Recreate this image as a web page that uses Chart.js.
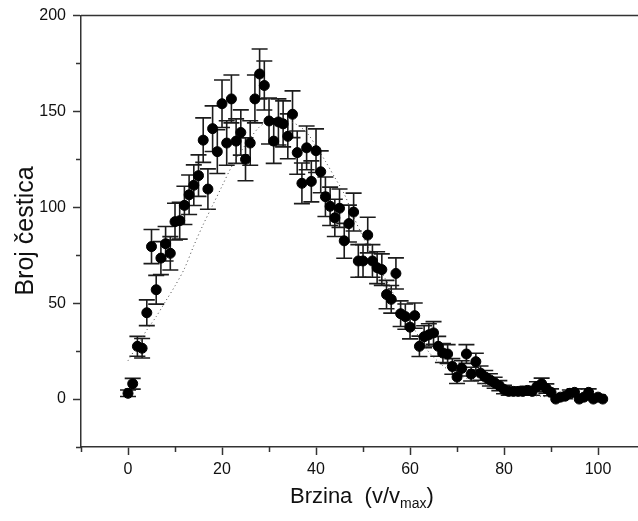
<!DOCTYPE html>
<html>
<head>
<meta charset="utf-8">
<script src="https://cdn.jsdelivr.net/npm/chart.js@4.4.1/dist/chart.umd.min.js"></script>
<style>
  html, body { margin: 0; padding: 0; background: #fff; }
</style>
</head>
<body>
<canvas id="chartId" width="638" height="521"></canvas>
<script>
// measured points (speed in % of v_max, particle count, error)
var speeds = [0, 1, 2, 3, 4, 5, 6, 7, 8, 9, 10, 11, 12, 13, 14, 15, 16, 17, 18, 19,
    20, 21, 22, 23, 24, 25, 26, 27, 28, 29, 30, 31, 32, 33, 34, 35, 36, 37, 38, 39,
    40, 41, 42, 43, 44, 45, 46, 47, 48, 49, 50, 51, 52, 53, 54, 55, 56, 57, 58, 59,
    60, 61, 62, 63, 64, 65, 66, 67, 68, 69, 70, 71, 72, 73, 74, 75, 76, 77, 78, 79,
    80, 81, 82, 83, 84, 85, 86, 87, 88, 89, 90, 91, 92, 93, 94, 95, 96, 97, 98, 99,
    100, 101];
var counts = [3, 8, 27.5, 26.5, 45, 79.5, 57, 73.5, 81, 76, 92.5, 93, 101, 106.5, 111.5, 116.5, 135, 109.5, 141, 129,
    154, 133.5, 156.5, 134.5, 139, 125, 133.5, 156.5, 169.5, 163.5, 145, 134.5, 144.5, 143.5, 137, 148.5, 128.5, 112.5, 131, 113.5,
    129.5, 118.5, 105.5, 100.5, 94.5, 99.5, 82.5, 91.5, 97.5, 72, 72, 85.5, 72, 68.5, 67.5, 54.5, 52, 65.5, 44.5, 43,
    37.5, 43.5, 27.5, 32.5, 33.5, 34.5, 27.5, 24, 23.5, 17, 11.5, 16, 23.5, 13, 19.5, 13.5, 11.5, 10, 8.5, 7,
    5, 4, 4, 4, 4, 4.5, 4, 6.5, 8, 5.5, 3.5, 0, 1, 1.5, 3, 3.5, 0, 1, 3.5, 0,
    1, 0];
var errors = [1.7, 2.8, 5.2, 5.1, 6.7, 8.9, 7.5, 8.6, 9, 8.7, 9.6, 9.6, 10, 10.3, 10.6, 10.8, 11.6, 10.5, 11.9, 11.4,
    12.4, 11.6, 12.5, 11.6, 11.8, 11.2, 11.6, 12.5, 13, 12.8, 12, 11.6, 12, 12, 11.7, 12.2, 11.3, 10.6, 11.4, 10.7,
    11.4, 10.9, 10.3, 10, 9.7, 10, 9.1, 9.6, 9.9, 8.5, 8.5, 9.3, 8.5, 8.3, 8.2, 7.4, 7.2, 8.1, 6.7, 6.6,
    6.1, 6.6, 5.3, 5.7, 5.8, 5.9, 5.2, 4.9, 4.9, 4.1, 3.4, 4, 4.9, 3.6, 4.4, 3.7, 3.4, 3.2, 2.9, 2.6,
    2.2, 2, 2, 2, 2, 2.2, 2, 2.5, 2.9, 2.4, 1.8, 0, 1.1, 1.3, 1.7, 1.8, 0, 1.1, 1.8, 0,
    1.1, 0];

// dotted reference curve
var curveX = [0, 2, 4, 6, 8, 10, 12, 14, 16, 18, 20, 22, 24, 26, 28, 30, 32, 34, 36, 38,
    40, 42, 44, 46, 48, 50, 52, 54, 56, 58, 60, 62, 64, 66, 68, 70, 74, 78, 82, 86, 90, 95, 100];
var curveY = [20, 28, 36, 43, 51, 59, 68, 80, 91, 101, 111, 121, 129, 136, 142, 145, 146, 145, 143, 139,
    132, 124, 115.5, 107, 95, 84.5, 75, 66, 57, 48, 40, 32, 24.5, 19.5, 15.5, 13, 9, 6, 4, 2, 1, 0.5, 0];

var xTicksMajor = [0, 20, 40, 60, 80, 100];
var yTicksMajor = [0, 50, 100, 150, 200];

var fontName = "'Liberation Sans', Arial, sans-serif";
var axisColor = '#333';

var errorBars = {
    id: 'errorBars',
    beforeDatasetsDraw: function (chart) {
        var ctx = chart.ctx;
        var xs = chart.scales.x, ys = chart.scales.y;
        ctx.save();
        ctx.strokeStyle = '#1c1c1c';
        ctx.lineWidth = 1.6;
        for (var i = 0; i < speeds.length; i++) {
            if (!errors[i]) continue;
            var px = xs.getPixelForValue(speeds[i]);
            var top = ys.getPixelForValue(counts[i] + errors[i]);
            var bot = ys.getPixelForValue(counts[i] - errors[i]);
            ctx.beginPath();
            ctx.moveTo(px, top); ctx.lineTo(px, bot);
            ctx.moveTo(px - 8, top); ctx.lineTo(px + 8, top);
            ctx.moveTo(px - 8, bot); ctx.lineTo(px + 8, bot);
            ctx.stroke();
        }
        ctx.restore();
    }
};

// top border, minor ticks and the two axis titles
var frame = {
    id: 'frame',
    afterDraw: function (chart) {
        var ctx = chart.ctx, area = chart.chartArea;
        var xs = chart.scales.x, ys = chart.scales.y;
        ctx.save();
        ctx.strokeStyle = axisColor;
        ctx.lineWidth = 1.5;
        ctx.beginPath();
        ctx.moveTo(area.left, area.top);
        ctx.lineTo(area.right, area.top);
        for (var v = -10; v <= 100; v += 20) {
            var px = Math.round(xs.getPixelForValue(v)) + 0.5;
            ctx.moveTo(px, area.bottom);
            ctx.lineTo(px, area.bottom + 5);
        }
        for (var w = -25; w <= 175; w += 50) {
            var py = Math.round(ys.getPixelForValue(w)) + 0.5;
            ctx.moveTo(area.left, py);
            ctx.lineTo(area.left - 5, py);
        }
        ctx.stroke();

        ctx.fillStyle = '#111';
        ctx.textBaseline = 'alphabetic';
        // x title with subscript
        var big = '22px ' + fontName, small = '14px ' + fontName;
        var p1 = 'Brzina  (v/v', p2 = 'max', p3 = ')';
        ctx.font = big;
        var w1 = ctx.measureText(p1).width;
        ctx.font = small;
        var w2 = ctx.measureText(p2).width;
        var x0 = 290;
        var base = 503;
        ctx.font = big;
        ctx.fillText(p1, x0, base);
        ctx.font = small;
        ctx.fillText(p2, x0 + w1, base + 5);
        ctx.font = big;
        ctx.fillText(p3, x0 + w1 + w2, base);

        // y title
        ctx.translate(33, 231);
        ctx.rotate(-Math.PI / 2);
        ctx.textAlign = 'center';
        ctx.font = '25px ' + fontName;
        ctx.fillText('Broj čestica', 0, 0);
        ctx.restore();
    }
};

var chrt = document.getElementById('chartId').getContext('2d');
var chartId = new Chart(chrt, {
    type: 'scatter',
    data: {
        datasets: [{
            label: 'Broj čestica',
            data: speeds.map(function (s, i) { return { x: s, y: counts[i] }; }),
            backgroundColor: '#000',
            borderColor: '#000',
            pointRadius: 5,
            pointHoverRadius: 5,
            order: 1,
        }, {
            type: 'line',
            label: 'teorija',
            data: curveX.map(function (s, i) { return { x: s, y: curveY[i] }; }),
            borderColor: '#444',
            borderWidth: 1,
            borderDash: [1, 3],
            pointRadius: 0,
            fill: false,
            tension: 0.3,
            order: 2,
        }],
    },
    options: {
        responsive: false,
        animation: false,
        events: [],
        layout: { autoPadding: false, padding: { top: 15.5, right: 0, left: 0, bottom: 0 } },
        plugins: {
            legend: { display: false },
            tooltip: { enabled: false },
        },
        scales: {
            x: {
                type: 'linear',
                min: -10,
                max: 108.5,
                afterFit: function (s) { s.height = 74; s.paddingLeft = 0; s.paddingRight = 0; },
                ticks: {
                    stepSize: 20,
                    includeBounds: false,
                    autoSkip: false,
                    maxRotation: 0,
                    color: '#111',
                    padding: 5,
                    font: { family: fontName, size: 16 },
                    callback: function (v) { return xTicksMajor.indexOf(v) >= 0 ? v : ''; },
                },
                grid: {
                    drawOnChartArea: false,
                    tickLength: 8,
                    tickColor: axisColor,
                    tickWidth: 1.5,
                },
                border: { color: axisColor, width: 1.5 },
            },
            y: {
                min: -25,
                max: 200,
                afterFit: function (s) { s.width = 81; s.paddingTop = 0; s.paddingBottom = 0; },
                ticks: {
                    stepSize: 50,
                    includeBounds: false,
                    color: '#111',
                    padding: 7,
                    font: { family: fontName, size: 16 },
                    callback: function (v) { return yTicksMajor.indexOf(v) >= 0 ? v : ''; },
                },
                grid: {
                    drawOnChartArea: false,
                    tickLength: 8,
                    tickColor: axisColor,
                    tickWidth: 1.5,
                },
                border: { color: axisColor, width: 1.5 },
            },
        },
    },
    plugins: [errorBars, frame],
});
</script>
</body>
</html>
